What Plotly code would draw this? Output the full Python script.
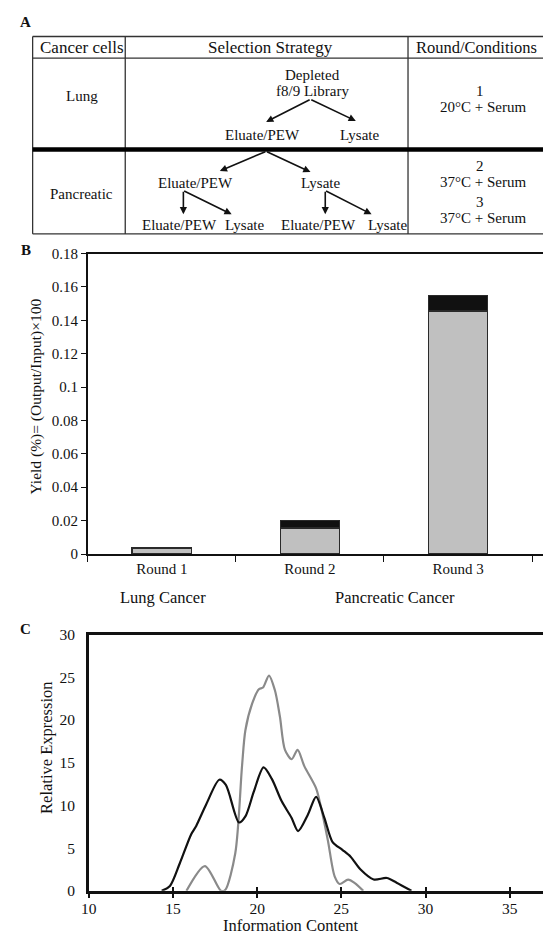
import plotly.graph_objects as go

W, H = 543, 944
FONT = "Liberation Serif, Times New Roman, serif"


def px(x):
    return x / W


def py(y):
    return 1 - y / H


# ---------------- Panel A (table) text ----------------
table_headers = ["Cancer cells", "Selection Strategy", "Round/Conditions"]
cancer_cells = ["Lung", "Pancreatic"]
lung_start = ["Depleted", "f8/9 Library"]
lung_children = ["Eluate/PEW", "Lysate"]
panc_children = ["Eluate/PEW", "Lysate"]
panc_grandchildren = ["Eluate/PEW", "Lysate", "Eluate/PEW", "Lysate"]
round_numbers = ["1", "2", "3"]
round_conditions = ["20°C + Serum", "37°C + Serum", "37°C + Serum"]

# ---------------- Panel B data ----------------
rounds = ["Round 1", "Round 2", "Round 3"]
cancer_groups = ["Lung Cancer", "Pancreatic Cancer"]
yield_grey = [0.0035, 0.0155, 0.1457]
yield_black = [0.0, 0.0045, 0.0092]
yield_tickvals = [0, 0.02, 0.04, 0.06, 0.08, 0.10, 0.12, 0.14, 0.16, 0.18]
yield_ticktext = ["0", "0.02", "0.04", "0.06", "0.08", "0.1", "0.12", "0.14", "0.16", "0.18"]

# ---------------- Panel C data ----------------
black_x = [14.33, 14.82, 15.40, 16.09, 16.38, 16.97, 17.75, 18.14, 18.92, 19.31, 19.80,
           20.38, 20.87, 21.45, 22.04, 22.43, 23.01, 23.50, 23.99, 24.48, 25.06, 25.55,
           26.14, 26.92, 27.70, 28.28, 29.16]
black_y = [0, 0.57, 3.2, 6.65, 7.6, 10.1, 13.0, 12.4, 8.0, 8.75, 11.6,
           14.45, 13.1, 10.5, 8.55, 7.0, 8.9, 11.0, 8.55, 5.7, 4.8, 4.0,
           2.5, 1.33, 1.5, 0.95, 0]
grey_x = [15.8, 16.9, 17.85, 18.1, 18.7, 19.1, 19.3, 19.7, 20.1, 20.35, 20.7, 21.05,
          21.35, 21.65, 22.05, 22.4, 22.8, 23.5, 23.8, 24.2, 24.6, 24.9, 25.4, 25.8, 26.3]
grey_y = [0, 2.9, 0, 0.1, 4.4, 14.6, 18.8, 21.9, 23.6, 23.8, 25.2, 23.5,
          20.4, 16.5, 15.4, 16.5, 14.6, 12.0, 9.7, 5.9, 1.7, 0.8, 1.3, 0.9, 0]
info_tickvals = [10, 15, 20, 25, 30, 35]
expr_tickvals = [0, 5, 10, 15, 20, 25, 30]

fig = go.Figure()

# Panel B bars
fig.add_trace(go.Bar(x=rounds, y=yield_grey, width=0.4,
                     marker=dict(color="#c0c0c0", line=dict(color="#2a2a2a", width=1.5)),
                     xaxis="x", yaxis="y", showlegend=False))
fig.add_trace(go.Bar(x=rounds, y=yield_black, width=0.4,
                     marker=dict(color="#111111", line=dict(color="#2a2a2a", width=1.5)),
                     xaxis="x", yaxis="y", showlegend=False))

# Panel C lines
fig.add_trace(go.Scatter(x=grey_x, y=grey_y, mode="lines",
                         line=dict(color="#8a8a8a", width=2.2, shape="spline", smoothing=0.8),
                         xaxis="x2", yaxis="y2", showlegend=False))
fig.add_trace(go.Scatter(x=black_x, y=black_y, mode="lines",
                         line=dict(color="#111111", width=2.2, shape="spline", smoothing=0.8),
                         xaxis="x2", yaxis="y2", showlegend=False))
# carrier for the inner half of the crossing ticks
fig.add_trace(go.Scatter(x=[info_tickvals[0]], y=[expr_tickvals[0]], mode="markers",
                         marker=dict(opacity=0), xaxis="x3", yaxis="y2",
                         showlegend=False, hoverinfo="skip"))

B_LEFT, B_TOP, B_BOT = 81, 249, 555
C_LEFT, C_TOP, C_BOT = 82, 637, 898
cat_px = 150.3
c_px_per_unit = 17.09

axis_font = dict(family=FONT, size=15, color="#111")
c_axis_font = dict(family=FONT, size=15.5, color="#111")

fig.update_layout(
    width=W, height=H,
    margin=dict(l=0, r=0, t=0, b=0),
    paper_bgcolor="white", plot_bgcolor="white",
    barmode="stack",
    font=dict(family=FONT, size=15, color="#111"),
    xaxis=dict(domain=[px(B_LEFT), 1], anchor="y", type="category",
               range=[-0.5, -0.5 + (W - B_LEFT) / cat_px],
               tickson="boundaries", ticks="outside", ticklen=6, tickcolor="#111",
               showline=True, linecolor="#111", linewidth=1.5, mirror=True,
               showgrid=False, tickfont=axis_font),
    yaxis=dict(domain=[py(B_BOT), py(B_TOP)], anchor="x", range=[0, 0.18],
               tickvals=yield_tickvals, ticktext=yield_ticktext,
               ticks="outside", ticklen=5, tickcolor="#111",
               showline=True, linecolor="#111", linewidth=1.5,
               showgrid=False, zeroline=False, tickfont=axis_font),
    xaxis2=dict(domain=[px(C_LEFT), 1], anchor="y2",
                range=[10, 10 + (W - C_LEFT) / c_px_per_unit],
                tickvals=info_tickvals, ticks="outside", ticklen=4, tickwidth=2,
                tickcolor="#111", showline=True, linecolor="#111", linewidth=2.5,
                mirror=True, showgrid=False, zeroline=False, tickfont=c_axis_font,
                ticklabelstandoff=-2),
    xaxis3=dict(overlaying="x2", anchor="y2", side="bottom",
                range=[10, 10 + (W - C_LEFT) / c_px_per_unit],
                tickvals=info_tickvals, ticks="inside", ticklen=4, tickwidth=2,
                tickcolor="#111", showticklabels=False, showline=False,
                showgrid=False, zeroline=False),
    yaxis2=dict(domain=[py(C_BOT), py(C_TOP)], anchor="x2", range=[0, 30],
                tickvals=expr_tickvals, ticks="", ticklabelstandoff=8,
                showline=True, linecolor="#111", linewidth=2.5,
                showgrid=False, zeroline=False, tickfont=c_axis_font),
)

shapes = []
annotations = []


def line(x0, y0, x1, y1, w=1.3, color="#333"):
    shapes.append(dict(type="line", xref="paper", yref="paper",
                       x0=px(x0), y0=py(y0), x1=px(x1), y1=py(y1),
                       line=dict(color=color, width=w)))


def text(x, y, s, size=15, bold=False, angle=0, xanchor="center"):
    annotations.append(dict(xref="paper", yref="paper", x=px(x), y=py(y),
                            text=f"<b>{s}</b>" if bold else s, showarrow=False,
                            xanchor=xanchor, yanchor="middle", textangle=angle,
                            font=dict(family=FONT, size=size, color="#111")))


def arrow(x_tail, y_tail, x_head, y_head):
    annotations.append(dict(xref="paper", yref="paper", x=px(x_head), y=py(y_head),
                            ax=x_tail - x_head, ay=y_tail - y_head, text="",
                            showarrow=True, arrowhead=2, arrowsize=0.9,
                            arrowwidth=1.6, arrowcolor="#111", standoff=0, startstandoff=0))


# ---- table frame ----
T_L, T_R, T_T, T_B = 25, 546, 28, 229
HDR, THICK = 50, 143
D1, D2 = 119, 406
line(T_L, T_T, T_R, T_T)
line(T_L, T_B, T_R, T_B)
line(T_L, T_T, T_L, T_B)
line(D1, T_T, D1, T_B)
line(D2, T_T, D2, T_B)
line(T_L, HDR, T_R, HDR)
line(T_L, THICK, T_R, THICK, w=4.5, color="#000")

# header texts
text(75, 39, table_headers[0], size=17)
text(266, 39, table_headers[1], size=17)
text(476, 39, table_headers[2], size=16.5)
# cancer cells
text(75, 89, cancer_cells[0])
text(75, 188, cancer_cells[1])
# lung strategy
text(309, 67, lung_start[0])
text(309, 83, lung_start[1])
arrow(307, 92, 262, 115)
arrow(307, 92, 353, 114)
text(258, 128, lung_children[0])
text(357, 128, lung_children[1])
# pancreatic strategy
arrow(262, 145, 215, 165)
arrow(262, 145, 307, 166)
text(190, 177, panc_children[0])
text(317, 177, panc_children[1])
arrow(178, 185, 178, 209)
arrow(178, 185, 227, 209)
arrow(322, 185, 322, 209)
arrow(322, 185, 369, 209)
text(174, 220, panc_grandchildren[0])
text(240, 220, panc_grandchildren[1])
text(315, 220, panc_grandchildren[2])
text(385, 220, panc_grandchildren[3])
# round / conditions
text(479, 84, round_numbers[0])
text(482, 100, round_conditions[0])
text(479, 160, round_numbers[1])
text(482, 176, round_conditions[1])
text(479, 197, round_numbers[2])
text(482, 213, round_conditions[2])

# panel letters
text(18, 13, "A", size=15, bold=True)
text(18, 245, "B", size=15, bold=True)
text(18, 631, "C", size=15, bold=True)

# Panel B titles
text(28, 395, "Yield (%)= (Output/Input)×100", size=15.5, angle=-90)
text(157, 599, cancer_groups[0], size=16.5)
text(393, 599, cancer_groups[1], size=16.5)

# Panel C titles
text(39, 752, "Relative Expression", size=16.5, angle=-90)
text(287, 933, "Information Content", size=16.5)

fig.update_layout(shapes=shapes, annotations=annotations)
fig.write_html("out.html", config={"displayModeBar": False},
               post_script="document.body.style.margin='0px';document.body.style.overflow='hidden';")
